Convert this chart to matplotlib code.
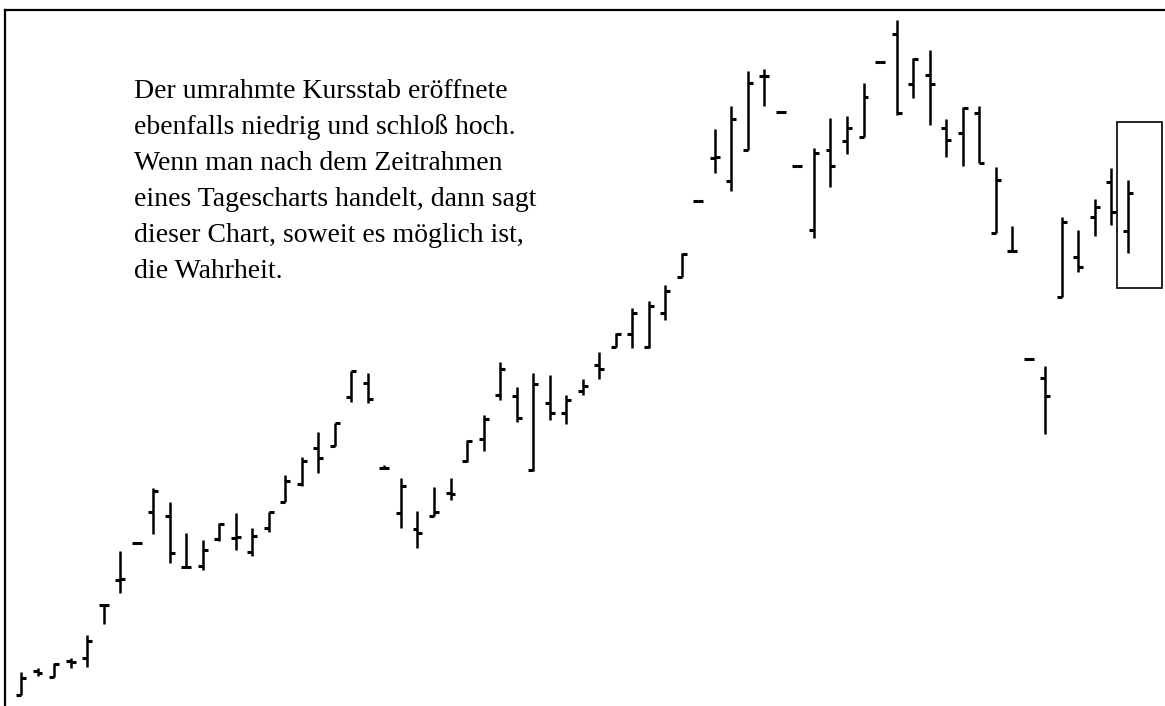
import matplotlib
matplotlib.use("Agg")
import matplotlib.pyplot as plt
from matplotlib.patches import Rectangle
import numpy as np

# Daily OHLC prices (arbitrary price units), one entry per trading day
opens = [1.1, 3.5, 2.9, 4.5, 4.8, 10.1, 12.6, 16.3, 19.4, 19.0,
         13.9, 14.0, 16.7, 16.8, 15.4, 17.8, 20.4, 22.2, 25.8, 26.0,
         30.9, 32.3, 23.8, 19.3, 17.7, 19.0, 21.3, 24.5, 26.7, 31.1,
         31.0, 23.6, 30.3, 29.3, 31.5, 34.1, 35.9, 37.2, 35.9, 39.3,
         42.9, 50.5, 54.8, 52.5, 55.6, 63.0, 59.4, 54.0, 47.6, 55.6,
         56.5, 56.9, 64.4, 67.2, 62.2, 63.1, 57.8, 57.3, 59.3, 47.3,
         45.5, 34.7, 32.8, 40.9, 44.9, 48.9, 52.4, 47.5]
highs = [3.4, 3.8, 4.3, 4.8, 7.1, 10.2, 15.5, 16.4, 21.8, 20.4,
         17.3, 16.6, 18.3, 19.3, 17.8, 19.4, 23.1, 24.9, 27.4, 28.3,
         33.5, 33.3, 24.1, 22.8, 19.5, 21.9, 22.8, 26.6, 29.1, 34.4,
         31.9, 33.3, 33.1, 31.1, 32.7, 35.4, 37.3, 39.8, 40.5, 42.1,
         45.3, 50.6, 57.7, 60.0, 63.5, 63.7, 59.5, 54.1, 55.8, 58.8,
         59.0, 62.3, 64.5, 68.6, 64.8, 65.6, 58.7, 59.9, 60.0, 53.9,
         48.0, 34.8, 34.0, 48.9, 47.6, 50.7, 53.8, 52.6]
lows = [1.1, 3.0, 2.9, 3.8, 3.9, 8.2, 11.3, 16.2, 17.2, 14.3,
        13.8, 13.6, 16.5, 15.6, 15.0, 17.4, 20.4, 22.0, 23.3, 26.0,
        30.4, 30.3, 23.7, 17.8, 15.8, 19.0, 20.6, 24.4, 25.5, 30.6,
        28.4, 23.5, 28.6, 28.2, 31.1, 32.7, 35.9, 35.8, 35.8, 38.6,
        42.9, 50.4, 53.3, 51.5, 55.6, 60.0, 59.3, 53.9, 46.8, 51.9,
        55.2, 56.9, 64.3, 59.1, 60.8, 58.1, 54.9, 54.0, 54.3, 47.3,
        45.4, 34.6, 27.2, 40.9, 43.4, 47.0, 48.1, 45.3]
closes = [2.8, 3.3, 4.2, 4.4, 6.5, 10.1, 12.7, 16.3, 21.5, 15.3,
          13.9, 15.6, 18.2, 16.9, 17.0, 19.4, 22.5, 24.5, 24.8, 28.3,
          33.5, 30.7, 23.8, 22.0, 17.3, 19.4, 21.2, 26.5, 28.7, 33.7,
          28.8, 32.2, 29.3, 30.6, 32.0, 33.7, 37.2, 39.3, 40.0, 41.5,
          45.2, 50.5, 54.9, 58.7, 62.3, 63.0, 59.4, 54.0, 55.3, 54.0,
          57.8, 60.9, 64.4, 59.3, 64.7, 62.2, 56.6, 59.8, 54.3, 52.6,
          45.5, 34.7, 31.0, 48.4, 43.9, 49.9, 49.4, 51.3]

caption_lines = [
    "Der umrahmte Kursstab eröffnete",
    "ebenfalls niedrig und schloß hoch.",
    "Wenn man nach dem Zeitrahmen",
    "eines Tagescharts handelt, dann sagt",
    "dieser Chart, soweit es möglich ist,",
    "die Wahrheit.",
]

W, H = 1165, 706
fig = plt.figure(figsize=(W / 100, H / 100), dpi=100)
fig.patch.set_facecolor("white")

# axes frame: left and top rules only
ax = fig.add_axes([5 / W, 0, 1 - 5 / W, (H - 10) / H])
for side in ("right", "bottom"):
    ax.spines[side].set_visible(False)
for side in ("left", "top"):
    ax.spines[side].set_linewidth(1.6)
    ax.spines[side].set_color("black")
ax.set_xticks([])
ax.set_yticks([])

x = np.arange(len(opens))
tick = 0.3
ax.vlines(x, lows, highs, color="black", linewidth=1.8, capstyle="butt")
ax.hlines(opens, x - tick, x, color="black", linewidth=2.2, capstyle="butt")
ax.hlines(closes, x, x + tick, color="black", linewidth=2.2, capstyle="butt")

# frame around the last trading day
last = len(opens) - 1
ax.add_patch(Rectangle((last - 0.66, 41.8), 2.73, 16.6, fill=False,
                       edgecolor="black", linewidth=1.2))

step = 16.52
ax.set_xlim((5 - 21) / step, (W - 21) / step)
ax.set_ylim(0, 69.6)

for k, line in enumerate(caption_lines):
    fig.text(134 / W, 1 - (98 + 36 * k) / H, line, family="Liberation Serif",
             fontsize=20, va="baseline", ha="left", color="black")

fig.savefig("out.png", dpi=100, facecolor="white")
